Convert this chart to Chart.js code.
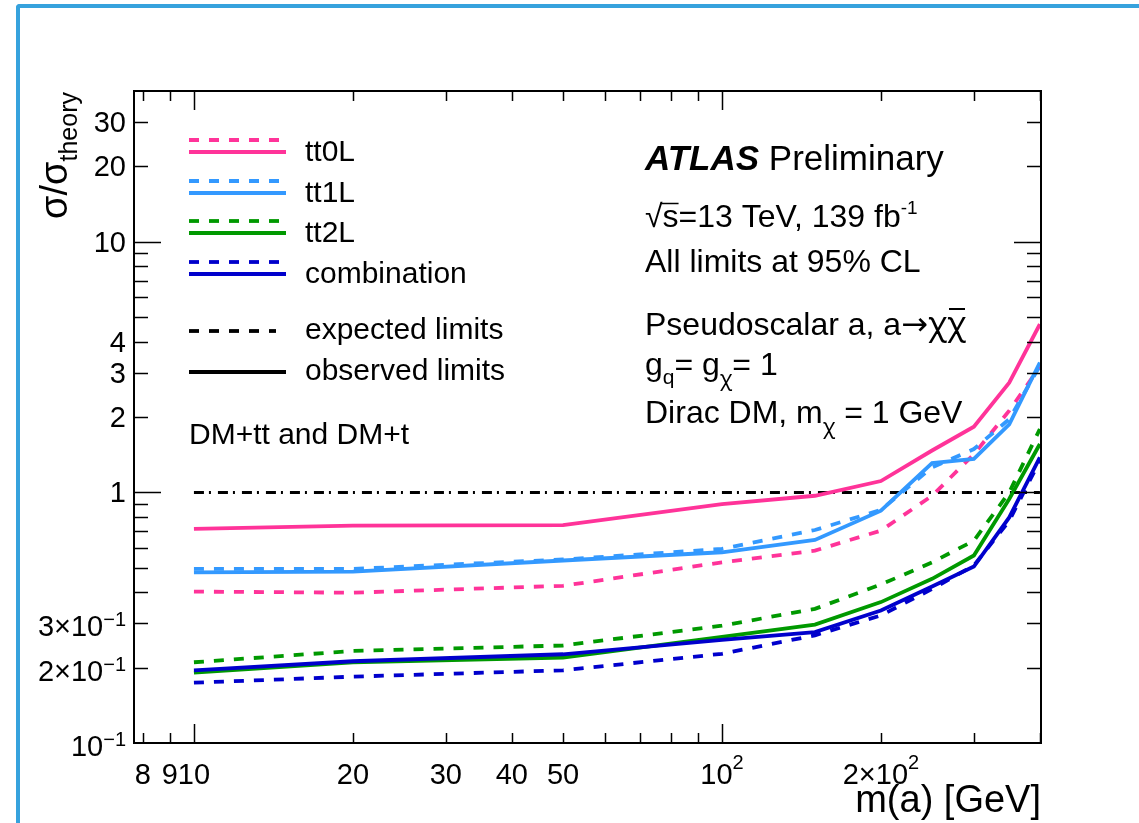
<!DOCTYPE html>
<html>
<head>
<meta charset="utf-8">
<title>DM+tt limits</title>
<script src="https://cdn.jsdelivr.net/npm/chart.js@4.4.1/dist/chart.umd.min.js"></script>
<style>
  html, body { margin: 0; padding: 0; background: #fff; overflow: hidden; }
  #frame {
    position: absolute; left: 16px; top: 4px; width: 1200px; height: 900px;
    border-top: 4px solid #36a2dd; border-left: 4px solid #36a2dd;
    border-top-left-radius: 4px;
  }
  #limits { position: absolute; left: 0; top: 0; }
</style>
</head>
<body>
<div id="frame"></div>
<canvas id="limits" width="1139" height="823"></canvas>
<script>
// mediator mass points [GeV]
const masses = [10, 20, 50, 100, 150, 200, 250, 300, 350, 400]

// sigma / sigma_theory limits, expected (dashed) and observed (solid)
const tt0lExp = [0.402, 0.398, 0.424, 0.526, 0.586, 0.704, 0.970, 1.42, 2.12, 3.17]
const tt0lObs = [0.715, 0.737, 0.741, 0.899, 0.970, 1.11, 1.47, 1.83, 2.74, 4.69]
const tt1lExp = [0.495, 0.495, 0.540, 0.595, 0.708, 0.851, 1.26, 1.49, 1.96, 3.20]
const tt1lObs = [0.480, 0.483, 0.535, 0.577, 0.646, 0.846, 1.31, 1.36, 1.87, 3.30]
const tt2lExp = [0.210, 0.233, 0.245, 0.294, 0.343, 0.429, 0.526, 0.642, 1.00, 1.79]
const tt2lObs = [0.191, 0.210, 0.219, 0.265, 0.297, 0.365, 0.452, 0.560, 0.941, 1.56]
const combExp = [0.174, 0.184, 0.195, 0.227, 0.269, 0.323, 0.412, 0.511, 0.771, 1.34]
const combObs = [0.195, 0.212, 0.226, 0.258, 0.277, 0.338, 0.421, 0.506, 0.795, 1.38]

// unity line ends
const unityX = [10, 400]
const unityY = [1, 1]

// labelled ticks
const xTickLabels = [8, 9, 10, 20, 30, 40, 50, 100, 200]
const yTickLabels = [30, 20, 10, 4, 3, 2, 1, 0.3, 0.2, 0.1]

const channelNames = ['tt0L', 'tt1L', 'tt2L', 'combination']

const X_MIN = 7.7
const X_MAX = 402
const Y_MIN = 0.1
const Y_MAX = 40

const FONT = '"Liberation Sans", Arial, Helvetica, sans-serif'
const GREEK = '"Noto Sans", "DejaVu Sans", sans-serif'
const SYMBOL = '"DejaVu Sans", sans-serif'
const PINK = '#ff3399'
const LIGHTBLUE = '#3399ff'
const GREEN = '#009900'
const DARKBLUE = '#0000cc'
const channelColors = [PINK, LIGHTBLUE, GREEN, DARKBLUE]
const DASH = [10, 10]

const toPoints = (xs, ys) => xs.map((x, i) => ({ x, y: ys[i] }))

const limitLine = (label, values, color, dashed) => ({
  label,
  data: toPoints(masses, values),
  borderColor: color,
  borderWidth: 3.8,
  borderDash: dashed ? DASH : [],
  pointRadius: 0,
  tension: 0,
  fill: false,
})

// first entry is drawn on top
const datasets = [
  limitLine('combination exp', combExp, DARKBLUE, true),
  limitLine('combination obs', combObs, DARKBLUE, false),
  limitLine('tt2L exp', tt2lExp, GREEN, true),
  limitLine('tt2L obs', tt2lObs, GREEN, false),
  limitLine('tt1L exp', tt1lExp, LIGHTBLUE, true),
  limitLine('tt1L obs', tt1lObs, LIGHTBLUE, false),
  limitLine('tt0L exp', tt0lExp, PINK, true),
  limitLine('tt0L obs', tt0lObs, PINK, false),
  {
    label: 'unity',
    data: toPoints(unityX, unityY),
    borderColor: '#000',
    borderWidth: 3,
    borderDash: [10, 5, 2, 7],
    pointRadius: 0,
    fill: false,
  },
]

// draws a run of text pieces (with sub/superscripts) along the baseline
function drawRich(ctx, x, y, parts, align) {
  const fontOf = (p) => `${p.style || ''} ${p.size}px ${p.family || FONT}`
  let total = 0
  parts.forEach((p) => {
    ctx.font = fontOf(p)
    p.w = ctx.measureText(p.t).width
    total += p.w
  })
  let cx = align === 'right' ? x - total : align === 'center' ? x - total / 2 : x
  const spans = []
  parts.forEach((p) => {
    ctx.font = fontOf(p)
    ctx.fillText(p.t, cx, y + (p.dy || 0))
    spans.push([cx, cx + p.w])
    cx += p.w
  })
  return spans
}

function tickParts(v, size, supSize, supDy) {
  const e = Math.floor(Math.log10(v) + 1e-9)
  if (e === 0 || e === 1) return [{ t: String(v), size }]
  const m = Math.round(v / Math.pow(10, e))
  return [
    { t: (m === 1 ? '' : m + '\u00D7') + '10', size },
    { t: e < 0 ? '\u2212' + -e : String(e), size: supSize, dy: supDy },
  ]
}

function logTicks(min, max) {
  const out = []
  for (let k = Math.floor(Math.log10(min)); k <= Math.ceil(Math.log10(max)); k++) {
    for (let m = 1; m <= 9; m++) {
      const v = m * Math.pow(10, k)
      if (v > min * 1.0001 && v < max * 0.9999) out.push({ v, major: m === 1 })
    }
  }
  return out
}

const plotDecor = {
  id: 'plotDecor',
  afterDraw(chart) {
    const { ctx, chartArea: a, scales } = chart
    const xs = scales.x
    const ys = scales.y
    ctx.save()
    ctx.fillStyle = '#000'
    ctx.strokeStyle = '#000'
    ctx.textAlign = 'left'
    ctx.textBaseline = 'alphabetic'

    // ticks on all four sides, pointing inwards
    ctx.lineWidth = 1.5
    ctx.beginPath()
    logTicks(X_MIN, X_MAX).forEach(({ v, major }) => {
      const px = Math.round(xs.getPixelForValue(v)) + 0.5
      const len = major ? 19 : 10
      ctx.moveTo(px, a.bottom); ctx.lineTo(px, a.bottom - len)
      ctx.moveTo(px, a.top); ctx.lineTo(px, a.top + len)
    })
    logTicks(Y_MIN, Y_MAX).forEach(({ v, major }) => {
      const py = Math.round(ys.getPixelForValue(v)) + 0.5
      const len = major ? 27 : 14
      ctx.moveTo(a.left, py); ctx.lineTo(a.left + len, py)
      ctx.moveTo(a.right, py); ctx.lineTo(a.right - len, py)
    })
    ctx.stroke()

    // frame
    ctx.lineWidth = 2
    ctx.strokeRect(a.left, a.top, a.right - a.left, a.bottom - a.top)

    // tick labels
    xTickLabels.forEach((v) => {
      const parts = tickParts(v, 29, 20, -15)
      drawRich(ctx, xs.getPixelForValue(v), 784, parts, 'center')
    })
    yTickLabels.forEach((v) => {
      const parts = tickParts(v, 29, 20, -10)
      const off = parts.length > 1 ? 13 : 10
      drawRich(ctx, 126, ys.getPixelForValue(v) + off, parts, 'right')
    })

    // axis titles
    drawRich(ctx, a.right, 812, [{ t: 'm(a) [GeV]', size: 38 }], 'right')
    ctx.save()
    ctx.translate(67, a.top + 1)
    ctx.rotate(-Math.PI / 2)
    drawRich(ctx, 0, 0, [
      { t: '\u03C3/\u03C3', size: 38 },
      { t: 'theory', size: 25, dy: 10 },
    ], 'right')
    ctx.restore()

    // legend
    const lx0 = 189
    const lx1 = 286
    const tx = 305
    const legendRows = [140, 181, 221, 262]
    ctx.lineWidth = 3.8
    channelNames.forEach((name, i) => {
      const yd = legendRows[i]
      const ysol = yd + 12
      ctx.strokeStyle = channelColors[i]
      ctx.setLineDash(DASH)
      ctx.beginPath(); ctx.moveTo(lx0, yd); ctx.lineTo(lx1, yd); ctx.stroke()
      ctx.setLineDash([])
      ctx.beginPath(); ctx.moveTo(lx0, ysol); ctx.lineTo(lx1, ysol); ctx.stroke()
      drawRich(ctx, tx, ysol + 9, [{ t: name, size: 30 }], 'left')
    })
    ctx.strokeStyle = '#000'
    ctx.setLineDash(DASH)
    ctx.beginPath(); ctx.moveTo(lx0, 331); ctx.lineTo(lx1 - 10, 331); ctx.stroke()
    ctx.setLineDash([])
    ctx.beginPath(); ctx.moveTo(lx0, 372); ctx.lineTo(lx1, 372); ctx.stroke()
    drawRich(ctx, tx, 339, [{ t: 'expected limits', size: 30 }], 'left')
    drawRich(ctx, tx, 380, [{ t: 'observed limits', size: 30 }], 'left')
    drawRich(ctx, lx0, 444, [{ t: 'DM+tt and DM+t', size: 30 }], 'left')

    // labels block
    const bx = 645
    drawRich(ctx, bx, 170, [
      { t: 'ATLAS', size: 35, style: 'italic bold' },
      { t: ' Preliminary', size: 35 },
    ], 'left')
    const sq = drawRich(ctx, bx, 227, [
      { t: '\u221A', size: 32 },
      { t: 's', size: 32 },
      { t: '=13 TeV, 139 fb', size: 32 },
      { t: '-1', size: 19, dy: -13 },
    ], 'left')
    ctx.lineWidth = 1.5
    ctx.beginPath(); ctx.moveTo(sq[0][1] - 2, 203.5); ctx.lineTo(sq[1][1], 203.5); ctx.stroke()
    drawRich(ctx, bx, 272, [{ t: 'All limits at 95% CL', size: 32 }], 'left')
    const ps = drawRich(ctx, bx, 335, [
      { t: 'Pseudoscalar a, a', size: 32 },
      { t: '\u2192', size: 32, family: SYMBOL },
      { t: '\u03C7', size: 32, family: GREEK },
      { t: '\u03C7', size: 32, family: GREEK },
    ], 'left')
    ctx.lineWidth = 2
    ctx.beginPath(); ctx.moveTo(ps[3][0] + 2, 309); ctx.lineTo(ps[3][1] - 1, 309); ctx.stroke()
    drawRich(ctx, bx, 375, [
      { t: 'g', size: 32 },
      { t: 'q', size: 21, dy: 9 },
      { t: '= g', size: 32 },
      { t: '\u03C7', size: 21, dy: 11, family: GREEK },
      { t: '= 1', size: 32 },
    ], 'left')
    drawRich(ctx, bx, 423, [
      { t: 'Dirac DM, m', size: 32 },
      { t: '\u03C7', size: 21, dy: 11, family: GREEK },
      { t: ' = 1 GeV', size: 32 },
    ], 'left')

    ctx.restore()
  },
}

new Chart(document.getElementById('limits'), {
  type: 'line',
  data: { datasets },
  options: {
    responsive: false,
    animation: false,
    devicePixelRatio: 1,
    layout: { padding: { left: 134, right: 98, top: 91, bottom: 80 } },
    plugins: { legend: { display: false }, tooltip: { enabled: false } },
    scales: {
      x: { type: 'logarithmic', min: X_MIN, max: X_MAX, display: false },
      y: { type: 'logarithmic', min: Y_MIN, max: Y_MAX, display: false },
    },
  },
  plugins: [plotDecor],
})
</script>
</body>
</html>
